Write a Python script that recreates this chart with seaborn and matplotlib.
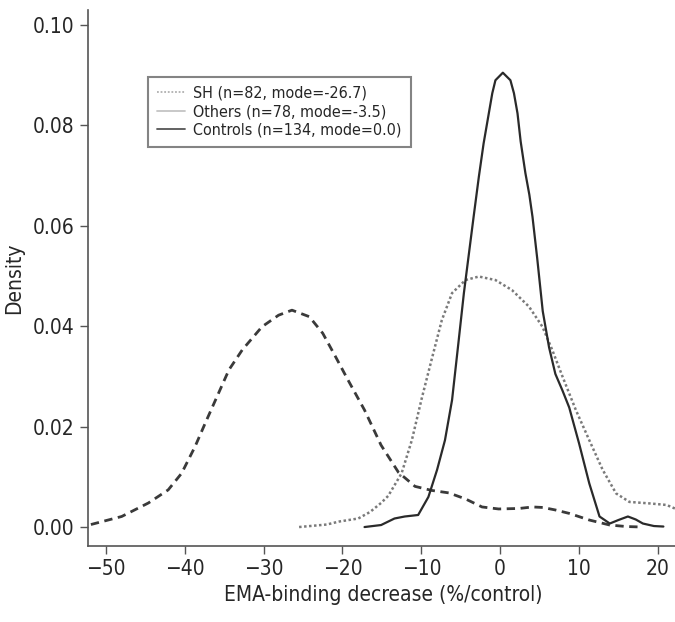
import numpy as np
import pandas as pd
import matplotlib
matplotlib.use('Agg')
import matplotlib.pyplot as plt
import seaborn as sns

# valores (densidade estimada por grupo)
sh_x = [-51.9, -48.0, -44.6, -42.1, -40.4, -38.7, -37.4, -36.1, -34.4, -32.7, -30.2, -28.1,
        -26.4, -24.2, -22.5, -20.9, -19.3, -17.2, -15.1, -12.9, -10.8, -8.7, -6.5, -4.4,
        -2.3, -0.2, 2.4, 4.1, 5.4, 7.0, 8.8, 11.3, 13.9, 16.0, 18.1]
sh_y = [0.0005, 0.0021, 0.0048, 0.0074, 0.0107, 0.0160, 0.0207, 0.0253, 0.0313, 0.0353,
        0.0399, 0.0422, 0.0432, 0.0419, 0.0386, 0.0340, 0.0293, 0.0233, 0.0163, 0.0109,
        0.0081, 0.0073, 0.0068, 0.0056, 0.0040, 0.0036, 0.0037, 0.0040, 0.0039, 0.0034,
        0.0027, 0.0014, 0.0004, 0.0001, 0.0000]

others_x = [-25.5, -22.0, -20.4, -18.0, -16.5, -15.1, -14.2, -12.5, -11.2, -9.95, -8.7,
            -7.4, -6.1, -4.4, -2.7, -0.6, 1.5, 3.66, 5.36, 6.6, 7.9, 9.6, 11.3, 13.0,
            14.7, 16.4, 19.0, 21.1, 22.6]
others_y = [0.0000, 0.0005, 0.0011, 0.0017, 0.0030, 0.0048, 0.0062, 0.0107, 0.0173,
            0.0256, 0.0333, 0.0412, 0.0466, 0.0492, 0.0499, 0.0492, 0.0472, 0.0439,
            0.0399, 0.0353, 0.0300, 0.0233, 0.0173, 0.0114, 0.0067, 0.0050, 0.0047,
            0.0044, 0.0034]

ctrl_x = [-17.2, -15.1, -13.4, -12.1, -10.4, -9.1, -8.0, -7.0, -6.1, -5.3, -4.6, -4.0,
          -3.35, -2.7, -2.1, -1.44, -1.0, -0.6, 0.34, 1.3, 1.75, 2.2, 2.6, 3.2, 3.7,
          4.1, 4.7, 5.4, 6.2, 7.0, 7.9, 8.76, 10.0, 11.3, 12.6, 13.9, 15.0, 16.2, 17.2,
          18.1, 19.5, 20.7]
ctrl_y = [0.0000, 0.0004, 0.0017, 0.0021, 0.0024, 0.0060, 0.0114, 0.0173, 0.0253,
          0.0366, 0.0466, 0.0540, 0.0620, 0.0698, 0.0764, 0.0824, 0.0864, 0.0890,
          0.0905, 0.0890, 0.0864, 0.0824, 0.0768, 0.0705, 0.0662, 0.0618, 0.0535,
          0.0430, 0.0358, 0.0305, 0.0272, 0.0238, 0.0167, 0.0087, 0.0021, 0.0007,
          0.0014, 0.0021, 0.0015, 0.0007, 0.0002, 0.0001]

rotulos = ['SH (n=82, mode=-26.7)', 'Others (n=78, mode=-3.5)', 'Controls (n=134, mode=0.0)']

sns.set_theme(style='ticks')
plt.rcParams['font.family'] = ['DejaVu Sans']
plt.rcParams['font.stretch'] = 'condensed'

fig = plt.figure(figsize=(6.75, 6.22), dpi=100)
ax = fig.add_axes([0.130, 0.122, 0.875, 0.862])

sns.lineplot(x=sh_x, y=sh_y, ax=ax, color='#3a3a3a', linewidth=2.0,
             linestyle=(0, (3, 2)), label=rotulos[0])
sns.lineplot(x=others_x, y=others_y, ax=ax, color='#7a7a7a', linewidth=1.8,
             linestyle=(0, (1, 1)), label=rotulos[1])
sns.lineplot(x=ctrl_x, y=ctrl_y, ax=ax, color='#2a2a2a', linewidth=1.6,
             linestyle='-', label=rotulos[2])

ax.set_xlim(-52.3, 22.6)
ax.set_ylim(-0.0038, 0.1030)
ax.set_xticks([-50, -40, -30, -20, -10, 0, 10, 20])
ax.set_yticks([0.0, 0.02, 0.04, 0.06, 0.08, 0.10])
ax.set_yticklabels(['0.00', '0.02', '0.04', '0.06', '0.08', '0.10'])
ax.tick_params(axis='both', labelsize=15, length=6, width=1, color='#555555')
ax.set_xlabel('EMA-binding decrease (%/control)', fontsize=15, labelpad=4)
ax.set_ylabel('Density', fontsize=15)
ax.yaxis.set_label_coords(-0.108, 0.5)

for s in ['top', 'right']:
    ax.spines[s].set_visible(False)
for s in ['left', 'bottom']:
    ax.spines[s].set_color('#555555')
    ax.spines[s].set_linewidth(1.2)

leg = ax.legend(loc='upper left', bbox_to_anchor=(0.1016, 0.875), borderaxespad=0,
                fontsize=11.5, frameon=True, fancybox=False, handlelength=1.8,
                borderpad=0.55, labelspacing=0.22, handletextpad=0.5)
leg.get_frame().set_edgecolor('#666666')
leg.get_frame().set_linewidth(1.5)
# os simbolos da legenda original sao bem claros
cores_leg = ['#b0b0b0', '#c4c4c4', '#555555']
estilos_leg = [(0, (1, 1)), '-', '-']
for h, c, e in zip(leg.legend_handles, cores_leg, estilos_leg):
    h.set_color(c)
    h.set_linestyle(e)
    h.set_linewidth(1.3)

fig.savefig('out.png', dpi=100)
